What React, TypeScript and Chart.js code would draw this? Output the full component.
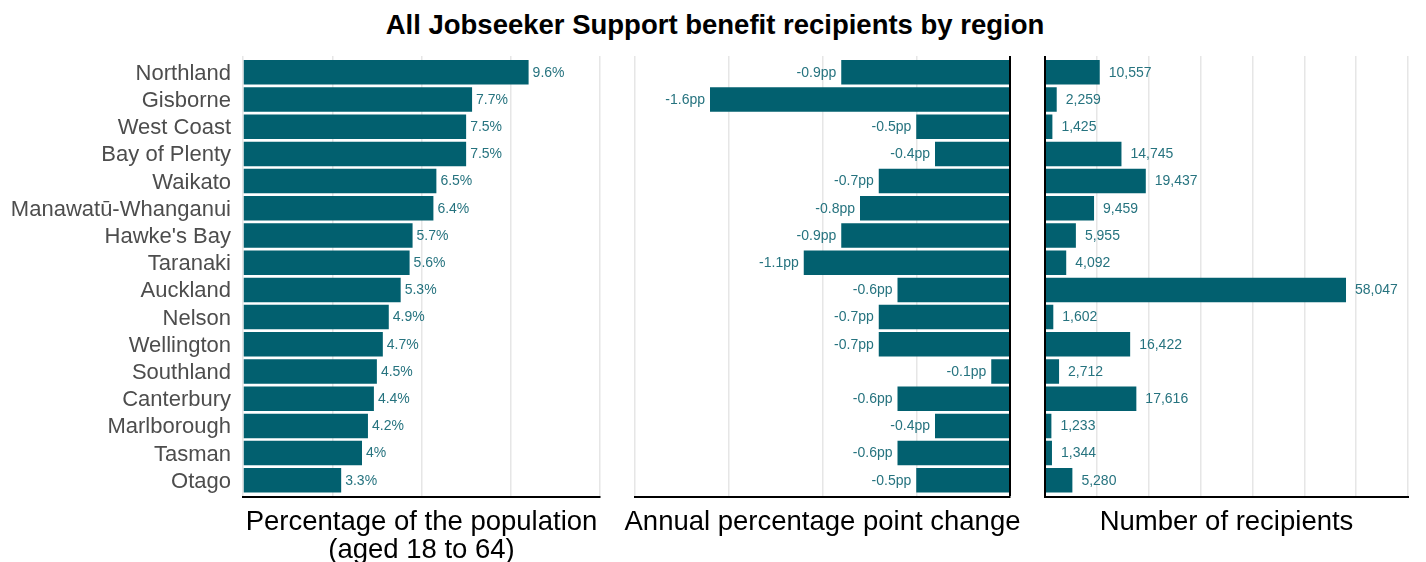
import React, { useEffect, useRef } from "react";
import { Chart, registerables } from "chart.js";

Chart.register(...registerables);

const chartTitle = "All Jobseeker Support benefit recipients by region";

const regions = [
  "Northland",
  "Gisborne",
  "West Coast",
  "Bay of Plenty",
  "Waikato",
  "Manawatū-Whanganui",
  "Hawke's Bay",
  "Taranaki",
  "Auckland",
  "Nelson",
  "Wellington",
  "Southland",
  "Canterbury",
  "Marlborough",
  "Tasman",
  "Otago",
];

const pctValues = [9.6, 7.7, 7.5, 7.5, 6.5, 6.4, 5.7, 5.6, 5.3, 4.9, 4.7, 4.5, 4.4, 4.2, 4.0, 3.3];
const pctLabels = ["9.6%", "7.7%", "7.5%", "7.5%", "6.5%", "6.4%", "5.7%", "5.6%", "5.3%", "4.9%", "4.7%", "4.5%", "4.4%", "4.2%", "4%", "3.3%"];

const changeValues = [-0.9, -1.6, -0.5, -0.4, -0.7, -0.8, -0.9, -1.1, -0.6, -0.7, -0.7, -0.1, -0.6, -0.4, -0.6, -0.5];
const changeLabels = ["-0.9pp", "-1.6pp", "-0.5pp", "-0.4pp", "-0.7pp", "-0.8pp", "-0.9pp", "-1.1pp", "-0.6pp", "-0.7pp", "-0.7pp", "-0.1pp", "-0.6pp", "-0.4pp", "-0.6pp", "-0.5pp"];

const countValues = [10557, 2259, 1425, 14745, 19437, 9459, 5955, 4092, 58047, 1602, 16422, 2712, 17616, 1233, 1344, 5280];
const countLabels = ["10,557", "2,259", "1,425", "14,745", "19,437", "9,459", "5,955", "4,092", "58,047", "1,602", "16,422", "2,712", "17,616", "1,233", "1,344", "5,280"];

const panel1Title = ["Percentage of the population", "(aged 18 to 64)"];
const panel2Title = ["Annual percentage point change"];
const panel3Title = ["Number of recipients"];

const FONT = '"Liberation Sans", Arial, Helvetica, sans-serif';
const BAR_COLOR = "#02606f";
const LABEL_COLOR = "#26737f";
const GRID_COLOR = "#e6e6e6";
const CANVAS_H = 580;
const PLOT_TOP = 56;
const PLOT_BOTTOM = 496.6;
const AXIS_TITLE_SIZE = 27.5;
const AXIS_TITLE_LINE = 28.3;
const AXIS_TITLE_Y = 522;

const valueLabelPlugin = {
  id: "valueLabels",
  afterDatasetsDraw(chart: any, _args: any, opts: any) {
    const { ctx } = chart;
    const meta = chart.getDatasetMeta(0);
    ctx.save();
    ctx.font = `14px ${FONT}`;
    ctx.fillStyle = LABEL_COLOR;
    ctx.textBaseline = "middle";
    ctx.textAlign = opts.side === "left" ? "right" : "left";
    meta.data.forEach((bar: any, i: number) => {
      const x = opts.side === "left" ? bar.x - opts.gap : bar.x + opts.gap;
      ctx.fillText(opts.labels[i], x, bar.y + 0.5);
    });
    ctx.restore();
  },
};

const axisTitlePlugin = {
  id: "axisTitle",
  afterDraw(chart: any, _args: any, opts: any) {
    const { ctx, chartArea } = chart;
    const cx = (chartArea.left + chartArea.right) / 2;
    ctx.save();
    ctx.font = `${AXIS_TITLE_SIZE}px ${FONT}`;
    ctx.fillStyle = "#000000";
    ctx.textAlign = "center";
    ctx.textBaseline = "middle";
    (opts.lines as string[]).forEach((line, i) => {
      ctx.fillText(line, cx, AXIS_TITLE_Y + i * AXIS_TITLE_LINE);
    });
    ctx.restore();
  },
};

type PanelOpts = {
  values: number[];
  labels: string[];
  xMin: number;
  xMax: number;
  step: number;
  showY: boolean;
  yWidth: number;
  zeroBlack: boolean;
  side: "left" | "right";
  gap: number;
  padLeft: number;
  padRight: number;
  title: string[];
};

function makeConfig(o: PanelOpts): any {
  return {
    type: "bar",
    data: {
      datasets: [
        {
          data: o.values.map((v, i) => ({ x: v, y: i })),
          backgroundColor: BAR_COLOR,
          borderWidth: 0,
          barPercentage: 0.9,
          categoryPercentage: 1,
        },
      ],
    },
    plugins: [valueLabelPlugin, axisTitlePlugin],
    options: {
      indexAxis: "y",
      animation: false,
      responsive: false,
      maintainAspectRatio: false,
      layout: { padding: { top: PLOT_TOP, bottom: 0, left: o.padLeft, right: o.padRight } },
      plugins: {
        legend: { display: false },
        tooltip: { enabled: false },
        valueLabels: { labels: o.labels, side: o.side, gap: o.gap },
        axisTitle: { lines: o.title },
      },
      scales: {
        y: {
          type: "linear",
          reverse: true,
          offset: false,
          min: -0.6,
          max: regions.length - 0.4,
          display: o.showY,
          afterBuildTicks: (axis: any) => {
            axis.ticks = regions.map((_, i) => ({ value: i }));
          },
          afterFit: (axis: any) => {
            if (o.showY) axis.width = o.yWidth;
          },
          grid: { display: false, drawTicks: false, offset: false },
          border: { display: false },
          ticks: {
            padding: 12,
            labelOffset: 1.5,
            color: "#4d4d4d",
            font: { family: FONT, size: 22 },
            autoSkip: false,
            callback: (v: any) => regions[v] ?? "",
          },
        },
        x: {
          type: "linear",
          min: o.xMin,
          max: o.xMax,
          afterFit: (axis: any) => {
            axis.height = CANVAS_H - PLOT_BOTTOM;
          },
          ticks: { display: false, stepSize: o.step },
          grid: {
            drawTicks: false,
            color: (ctx: any) => (o.zeroBlack && ctx.tick && ctx.tick.value === 0 ? "#000000" : GRID_COLOR),
            lineWidth: (ctx: any) => (o.zeroBlack && ctx.tick && ctx.tick.value === 0 ? 2 : 1.5),
          },
          border: { display: true, color: "#000000", width: 2 },
          title: { display: false },
        },
      },
    },
  };
}

function Panel({ left, width, opts }: { left: number; width: number; opts: PanelOpts }) {
  const ref = useRef<HTMLCanvasElement | null>(null);
  useEffect(() => {
    if (!ref.current) return;
    const chart = new Chart(ref.current, makeConfig(opts));
    return () => chart.destroy();
  }, []);
  return (
    <canvas
      ref={ref}
      width={width}
      height={CANVAS_H}
      style={{ position: "absolute", left, top: 0, width, height: CANVAS_H }}
    />
  );
}

export default function App() {
  return (
    <div
      style={{
        position: "fixed",
        left: 0,
        top: 0,
        width: 1426,
        height: 562,
        overflow: "hidden",
        background: "#ffffff",
      }}
    >
      <div
        style={{
          position: "absolute",
          left: 0,
          top: 9,
          width: 1430,
          textAlign: "center",
          fontFamily: FONT,
          fontWeight: "bold",
          fontSize: 27.5,
          lineHeight: "32px",
          color: "#000000",
        }}
      >
        {chartTitle}
      </div>
      <Panel
        left={0}
        width={612}
        opts={{
          values: pctValues,
          labels: pctLabels,
          xMin: 0,
          xMax: 12,
          step: 3,
          showY: true,
          yWidth: 243,
          zeroBlack: false,
          side: "right",
          gap: 4,
          padLeft: 0,
          padRight: 12,
          title: panel1Title,
        }}
      />
      <Panel
        left={610}
        width={420}
        opts={{
          values: changeValues,
          labels: changeLabels,
          xMin: -2,
          xMax: 0,
          step: 0.5,
          showY: false,
          yWidth: 0,
          zeroBlack: true,
          side: "left",
          gap: 5,
          padLeft: 25,
          padRight: 20,
          title: panel2Title,
        }}
      />
      <Panel
        left={1028}
        width={398}
        opts={{
          values: countValues,
          labels: countLabels,
          xMin: 0,
          xMax: 70000,
          step: 10000,
          showY: false,
          yWidth: 0,
          zeroBlack: true,
          side: "right",
          gap: 9,
          padLeft: 17,
          padRight: 18,
          title: panel3Title,
        }}
      />
    </div>
  );
}
